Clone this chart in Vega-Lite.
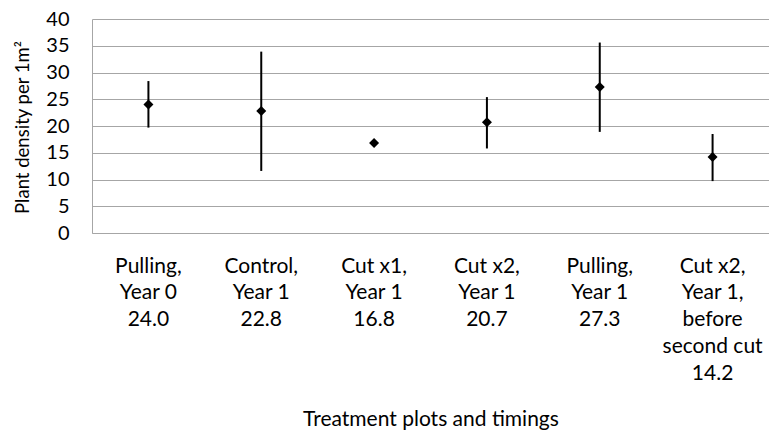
{
  "$schema": "https://vega.github.io/schema/vega-lite/v6.json",
  "autosize": "none",
  "width": 677,
  "height": 214,
  "padding": {"left": 92, "top": 19, "right": 0, "bottom": 197},
  "background": "white",
  "config": {
    "font": "Lato",
    "view": {"stroke": null}
  },
  "data": {
    "values": [
      {"treatment": "Pulling,|Year 0|24.0", "mean": 24.0, "low": 19.7, "high": 28.4},
      {"treatment": "Control,|Year 1|22.8", "mean": 22.8, "low": 11.6, "high": 33.9},
      {"treatment": "Cut x1,|Year 1|16.8", "mean": 16.8, "low": 16.8, "high": 16.8},
      {"treatment": "Cut x2,|Year 1|20.7", "mean": 20.7, "low": 15.8, "high": 25.4},
      {"treatment": "Pulling,|Year 1|27.3", "mean": 27.3, "low": 18.9, "high": 35.6},
      {"treatment": "Cut x2,|Year 1,|before|second cut|14.2", "mean": 14.2, "low": 9.7, "high": 18.5}
    ]
  },
  "encoding": {
    "x": {
      "field": "treatment", "type": "nominal", "sort": null,
      "scale": {"paddingInner": 0, "paddingOuter": 0},
      "axis": {
        "title": "Treatment plots and timings",
        "labelExpr": "split(datum.label, '|')",
        "labelAngle": 0, "labelAlign": "center", "labelBaseline": "top",
        "labelPadding": 22, "labelLineHeight": 26.75,
        "labelFont": "Lato", "labelFontSize": 21, "labelColor": "#000000",
        "titleFont": "Lato", "titleFontSize": 21, "titleColor": "#000000", "titleFontWeight": "normal",
        "ticks": false, "domain": true, "domainColor": "#a6a6a6",
        "titleY": 192, "titleBaseline": "alphabetic", "labelLimit": 300
      }
    },
    "y": {"field": "mean", "type": "quantitative",
      "scale": {"domain": [0, 40]},
      "axis": {
        "title": "Plant density per 1m²",
        "values": [0, 5, 10, 15, 20, 25, 30, 35, 40],
        "labelOverlap": false,
        "grid": true, "gridColor": "#a6a6a6", "gridWidth": 1,
        "ticks": false, "domain": true, "domainColor": "#a6a6a6",
        "labelFont": "Lato", "labelFontSize": 20, "labelColor": "#000000",
        "titleFont": "Lato", "titleFontSize": 18.5, "titleColor": "#000000", "titleFontWeight": "normal",
        "labelPadding": 23, "titleX": -63.5, "titleY": 108, "titleAlign": "center", "titleBaseline": "alphabetic"
      }
    }
  },
  "layer": [
    {
      "mark": {"type": "rule", "color": "#000000", "strokeWidth": 2},
      "encoding": {
        "y": {"field": "low", "type": "quantitative"},
        "y2": {"field": "high"}
      }
    },
    {
      "mark": {"type": "point", "shape": "diamond", "filled": true, "color": "#000000", "size": 100, "opacity": 1},
      "encoding": {}
    }
  ]
}
